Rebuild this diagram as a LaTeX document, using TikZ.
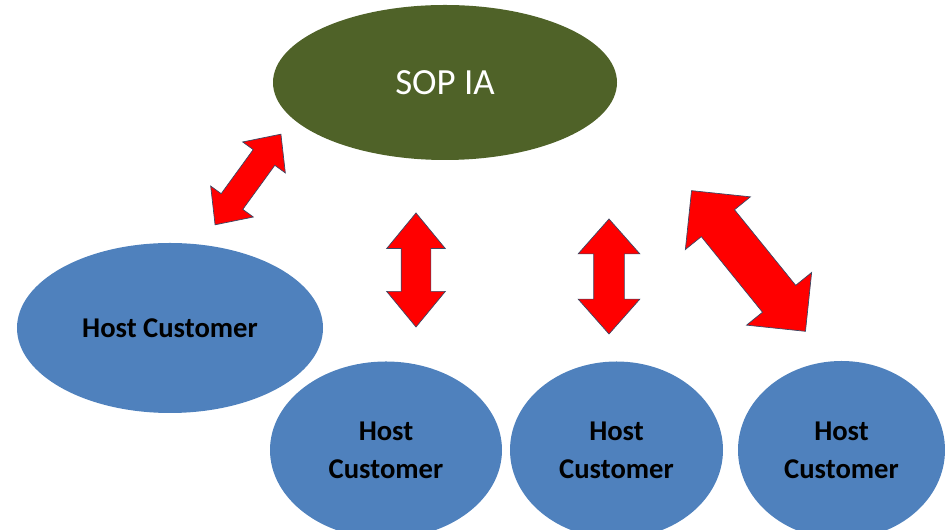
\documentclass[tikz,border=0pt]{standalone}
\usepackage{fontspec}
\setmainfont{Carlito}
\usepackage{tikz}
\usetikzlibrary{shapes.geometric, shapes.arrows}
\definecolor{sopgreen}{RGB}{79,98,40}
\definecolor{hostblue}{RGB}{79,129,189}
\definecolor{arrowred}{RGB}{255,0,0}
\definecolor{arrowedge}{RGB}{60,72,100}

\begin{document}
\begin{tikzpicture}[
  ellSOP/.style={ellipse, fill=sopgreen, draw=none, inner sep=0pt, text=white, font=\fontsize{21}{25}\selectfont},
  ellHost/.style={ellipse, fill=hostblue, draw=none, inner sep=0pt, text=black, align=center, font=\fontsize{16.3}{21.5}\selectfont\bfseries},
  dblArrow/.style={double arrow, fill=arrowred, draw=arrowedge, line width=0.4pt, inner xsep=0pt, minimum width=0pt}]

\useasboundingbox (0,0) rectangle (18.9,10.6);

\node[ellSOP, minimum width=6.88cm, minimum height=3.10cm] (sop) at (8.90,8.95) {SOP IA};
\node[ellHost, minimum width=6.12cm, minimum height=3.40cm] (hostL) at (3.40,4.04) {Host Customer};
\node[ellHost, minimum width=4.64cm, minimum height=3.54cm] (hostA) at (7.72,1.60) {Host\\Customer};
\node[ellHost, minimum width=4.26cm, minimum height=3.54cm] (hostB) at (12.33,1.60) {Host\\Customer};
\node[ellHost, minimum width=4.14cm, minimum height=3.56cm] (hostC) at (16.83,1.60) {Host\\Customer};

\node[dblArrow, rotate=54, minimum height=2.24cm, inner ysep=0.26cm, double arrow head extend=0.26cm, double arrow tip angle=85] (arrL) at (4.96,7.01) {};
\node[dblArrow, rotate=90, minimum height=2.28cm, inner ysep=0.29cm, double arrow head extend=0.29cm, double arrow tip angle=79] (arrA) at (8.32,5.20) {};
\node[dblArrow, rotate=90, minimum height=2.30cm, inner ysep=0.30cm, double arrow head extend=0.31cm, double arrow tip angle=83] (arrB) at (12.18,5.07) {};
\node[dblArrow, rotate=-51, minimum height=3.62cm, inner ysep=0.42cm, double arrow head extend=0.41cm, double arrow tip angle=90] (arrC) at (14.97,5.38) {};

\end{tikzpicture}
\end{document}
